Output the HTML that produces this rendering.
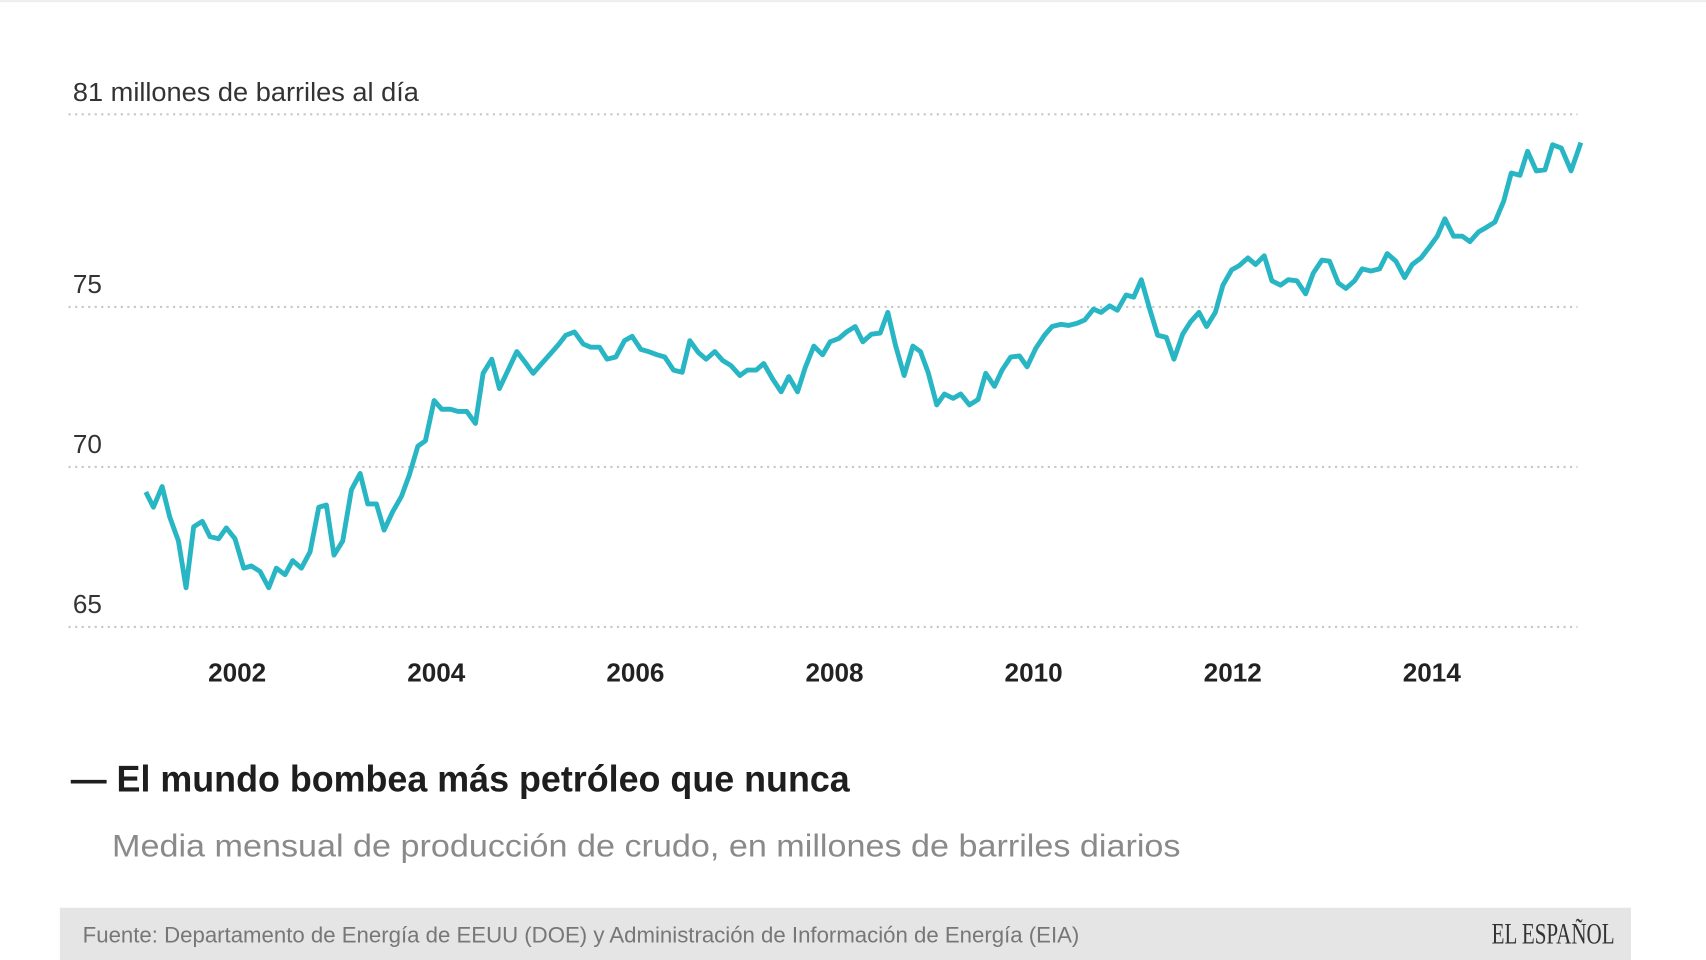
<!DOCTYPE html>
<html><head><meta charset="utf-8"><style>
html,body{margin:0;padding:0;background:#fff;width:1706px;height:960px;overflow:hidden}
svg{display:block}
text{font-family:"Liberation Sans Narrow","Liberation Sans",sans-serif}
</style></head><body>
<svg width="1706" height="960" viewBox="0 0 1568 882" preserveAspectRatio="none">
<rect x="0" y="0" width="1568" height="2" fill="#eee"/>
<g stroke="#c8c8c8" stroke-width="2" stroke-dasharray="2,4">
<line x1="63" y1="105" x2="1450" y2="105"/>
<line x1="63" y1="282" x2="1450" y2="282"/>
<line x1="63" y1="429" x2="1450" y2="429"/>
<line x1="63" y1="576" x2="1450" y2="576"/>
</g>
<g fill="#333" font-size="24">
<text x="67" y="93" textLength="318" lengthAdjust="spacingAndGlyphs">81 millones de barriles al día</text>
<text x="67" y="269">75</text>
<text x="67" y="416">70</text>
<text x="67" y="563">65</text>
</g>
<g fill="#222" font-size="24" font-weight="bold" text-anchor="middle">
<text x="218" y="626">2002</text><text x="401" y="626">2004</text><text x="584" y="626">2006</text><text x="767" y="626">2008</text><text x="950" y="626">2010</text><text x="1133" y="626">2012</text><text x="1316" y="626">2014</text>
</g>
<polyline fill="none" stroke="#29b6c4" stroke-width="4.5" stroke-linejoin="round" points="134,452 141,466 149,447 156,475 164,497 171,540 178,484 186,479 193,493 201,495 208,485 216,495 224,522 231,520 239,525 247,540 254,522 262,528 269,515 277,522 285,507 293,466 300,464 307,510 315,497 323,450 331,435 338,463 346,463 353,487 361,470 369,456 376,437 384,410 391,405 399,368 406,376 414,376 421,378 429,378 437,389 444,343 452,330 459,357 467,340 475,323 482,332 490,343 497,335 505,326 513,317 520,308 528,305 536,316 543,319 551,319 558,330 566,328 574,313 581,309 589,321 596,323 604,326 611,328 619,340 627,342 634,313 642,324 649,330 657,323 664,331 672,336 680,345 687,340 695,340 702,334 710,348 718,360 725,346 733,360 740,338 748,318 756,326 763,314 771,311 778,305 786,300 793,314 801,307 809,306 816,287 823,317 831,345 839,318 846,323 853,342 861,372 868,362 876,366 883,362 891,372 899,367 906,343 914,355 921,340 929,328 937,327 944,337 952,320 960,308 967,300 975,298 982,299 990,297 997,294 1005,284 1012,287 1020,281 1027,285 1035,271 1042,273 1049,257 1057,285 1064,308 1072,310 1079,330 1087,307 1094,296 1102,287 1109,300 1117,287 1124,262 1132,248 1139,244 1147,237 1154,243 1162,235 1169,258 1177,262 1184,257 1192,258 1200,270 1207,251 1215,239 1222,240 1230,260 1237,265 1245,258 1252,247 1260,249 1268,247 1275,233 1283,240 1291,255 1298,243 1306,237 1313,228 1321,217 1328,201 1336,217 1344,217 1351,222 1359,213 1366,209 1374,204 1382,185 1389,159 1397,161 1404,139 1412,157 1420,156 1427,133 1435,136 1444,157 1453,131"/>
<text x="65" y="727" font-size="34" fill="#1e1e1e" font-weight="bold" textLength="716" lengthAdjust="spacingAndGlyphs">— El mundo bombea más petróleo que nunca</text>
<text x="103" y="787" font-size="29" fill="#8a8a8a" textLength="982" lengthAdjust="spacingAndGlyphs">Media mensual de producción de crudo, en millones de barriles diarios</text>
<rect x="55" y="834" width="1444" height="48" fill="#e5e5e5"/>
<text x="76" y="866" font-size="20" fill="#777" textLength="916" lengthAdjust="spacingAndGlyphs">Fuente: Departamento de Energía de EEUU (DOE) y Administración de Información de Energía (EIA)</text>
<text x="1484" y="867" font-size="27" fill="#333" text-anchor="end" style="font-family:'Liberation Serif',serif" textLength="113" lengthAdjust="spacingAndGlyphs">EL ESPAÑOL</text>
</svg>
</body></html>
